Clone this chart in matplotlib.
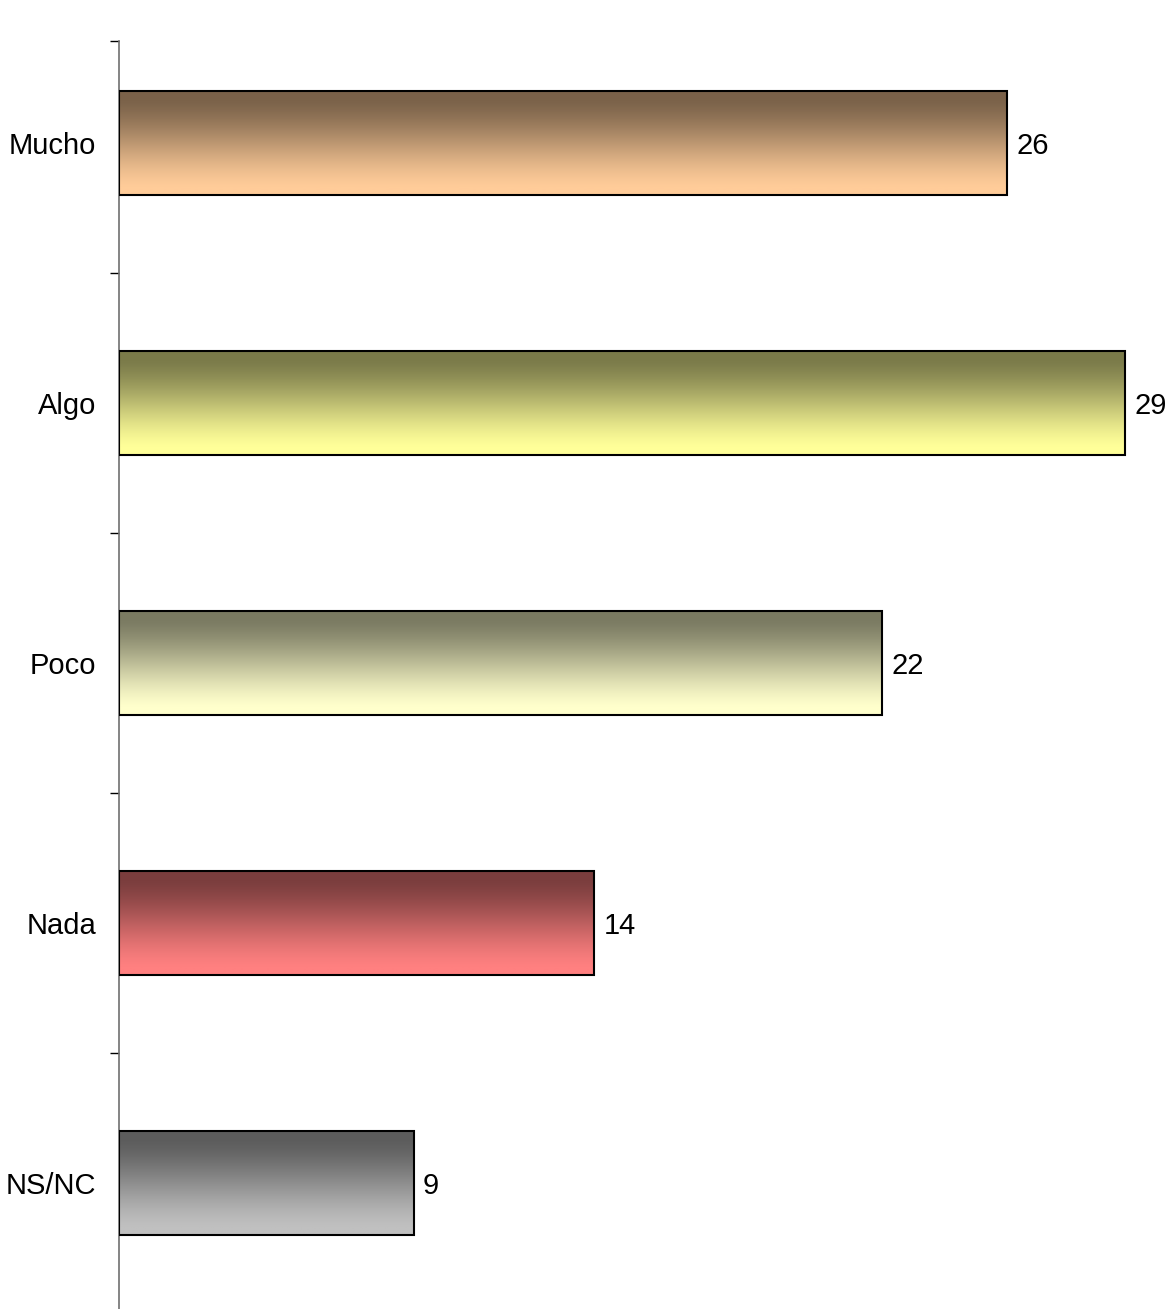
import numpy as np
import matplotlib
matplotlib.use("Agg")
import matplotlib.pyplot as plt
from matplotlib.colors import to_rgb

plt.rcParams['font.family'] = ['Liberation Sans', 'DejaVu Sans']

categories = ["Mucho", "Algo", "Poco", "Nada", "NS/NC"]
values = [25.6, 29.0, 22.0, 13.7, 8.5]
value_labels = ["26", "29", "22", "14", "9"]
base_colors = ["#FFCC99", "#FFFF99", "#FFFFCC", "#FF8080", "#C0C0C0"]

W, H = 1168, 1309
fig = plt.figure(figsize=(W / 100, H / 100), dpi=100)

# axes placed in pixels: left spine at x=119, top end at y=41, bottom below the figure
ax_left, ax_right = 119, 1168
ax_top, ax_bottom = 41, 1313
ax = fig.add_axes([ax_left / W, (H - ax_bottom) / H,
                   (ax_right - ax_left) / W, (ax_bottom - ax_top) / H])

px_per_unit = 34.7
xmax = (ax_right - ax_left) / px_per_unit
ytop = -0.5 + (ax_top - 13) / 260

bar_h = 0.4
n = 256
t = np.linspace(0, 1, n)
prof = np.clip((t - 0.08) / 0.84, 0, 1)
prof = 0.5 * prof + 0.5 * prof * prof * (3 - 2 * prof)

for i, (v, c) in enumerate(zip(values, base_colors)):
    light = np.array(to_rgb(c))
    dark = light * 0.48
    grad = dark[None, :] * (1 - prof[:, None]) + light[None, :] * prof[:, None]
    ax.imshow(grad[:, None, :], extent=(0, v, i + bar_h / 2, i - bar_h / 2),
              aspect='auto', interpolation='bilinear', zorder=2, origin='upper')
    ax.barh(i, v, height=bar_h, color='none', edgecolor='black', linewidth=1.5, zorder=3)
    ax.text(v + 9 / px_per_unit, i, value_labels[i], va='center_baseline', ha='left',
            fontsize=21)

ax.set_xlim(0, xmax)
ax.set_ylim(4.5, ytop)

ax.set_yticks([ytop, 0.5, 1.5, 2.5, 3.5, 4.5])
ax.set_yticklabels([])
ax.set_yticks(range(5), minor=True)
ax.set_yticklabels(categories, minor=True, fontsize=21, va='center_baseline')
ax.tick_params(axis='y', which='minor', length=0, pad=16.5)
ax.tick_params(axis='y', which='major', length=6.5, width=1, color='black')
ax.set_xticks([])

for s in ['top', 'right', 'bottom']:
    ax.spines[s].set_visible(False)
ax.spines['left'].set_color('#707070')
ax.spines['left'].set_linewidth(1.2)

fig.savefig("out.png", dpi=100)
